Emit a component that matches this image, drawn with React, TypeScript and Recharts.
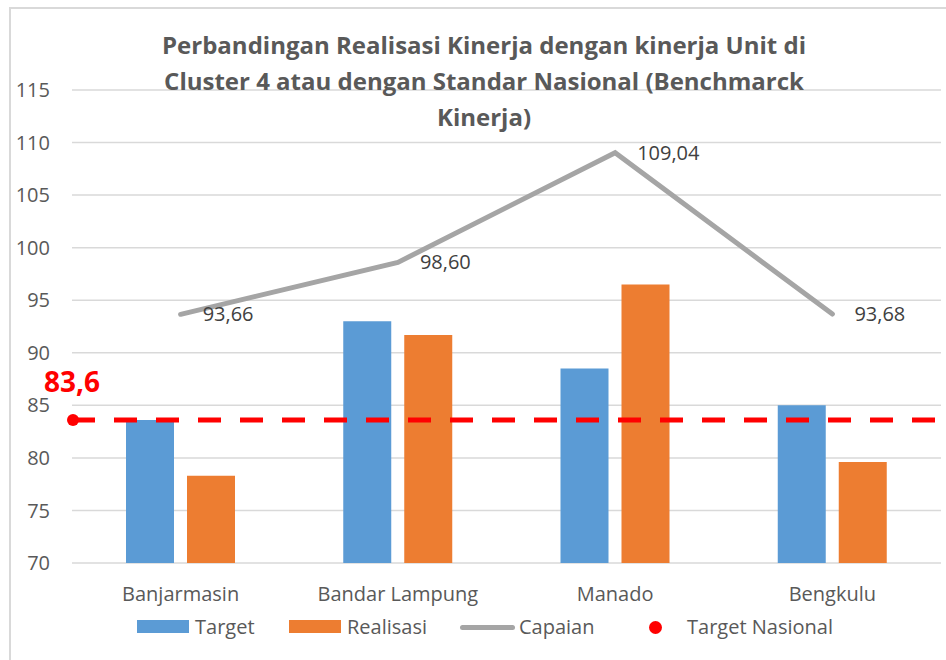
import { ComposedChart, Bar, Line, XAxis, YAxis, CartesianGrid, ReferenceLine, LabelList } from 'recharts';

const categories = ['Banjarmasin', 'Bandar Lampung', 'Manado', 'Bengkulu'];
const targetValues = [83.6, 93.0, 88.5, 85.0];
const realisasiValues = [78.3, 91.7, 96.5, 79.6];
const capaianValues = [93.66, 98.6, 109.04, 93.68];
const targetNasional = 83.6;
const yTicks = [70, 75, 80, 85, 90, 95, 100, 105, 110, 115];

const titleLines = [
  'Perbandingan Realisasi Kinerja dengan kinerja Unit di',
  'Cluster 4 atau dengan Standar Nasional (Benchmarck',
  'Kinerja)',
];

const data = categories.map((name, i) => ({
  name,
  target: targetValues[i],
  realisasi: realisasiValues[i],
  capaian: capaianValues[i],
}));

const fmt = (v: number) => v.toFixed(2).replace('.', ',');
const textColor = '#595959';

const NasionalMarker = (props: any) => {
  const { viewBox } = props;
  if (!viewBox) return null;
  return (
    <g>
      <circle cx={viewBox.x + 1} cy={viewBox.y} r={6} fill="#FF0000" />
      <text
        x={viewBox.x}
        y={viewBox.y - 28}
        textAnchor="middle"
        fill="#FF0000"
        fontSize={28}
        fontWeight="bold"
        fontFamily="Open Sans"
      >
        {String(targetNasional).replace('.', ',')}
      </text>
    </g>
  );
};

const legendItems = [
  { label: 'Target', kind: 'rect', color: '#5B9BD5', x: 137, tx: 195 },
  { label: 'Realisasi', kind: 'rect', color: '#ED7D31', x: 289, tx: 347 },
  { label: 'Capaian', kind: 'line', color: '#A5A5A5', x: 460, tx: 519 },
  { label: 'Target Nasional', kind: 'dot', color: '#FF0000', x: 649, tx: 687 },
];

export default function App() {
  return (
    <div
      style={{
        position: 'absolute',
        left: 0,
        top: 0,
        width: 946,
        height: 660,
        background: '#fff',
        overflow: 'hidden',
        fontFamily: 'Open Sans',
      }}
    >
      <div
        style={{
          position: 'absolute',
          left: 9,
          top: 7,
          width: 960,
          height: 700,
          borderLeft: '2px solid #D9D9D9',
          borderTop: '2px solid #D9D9D9',
        }}
      />
      <ComposedChart
        width={946}
        height={660}
        data={data}
        margin={{ top: 90, right: 5, bottom: 57, left: 0 }}
        barCategoryGap={54}
        barGap={13}
        style={{ position: 'absolute', left: 0, top: 0 }}
      >
        <CartesianGrid vertical={false} stroke="#D9D9D9" strokeWidth={1.5} />
        <XAxis
          dataKey="name"
          axisLine={false}
          tickLine={false}
          tickMargin={18}
          height={40}
          tick={{ fill: textColor, fontSize: 20, fontFamily: 'Open Sans' }}
        />
        <YAxis
          domain={[70, 115]}
          ticks={yTicks}
          width={72}
          axisLine={false}
          tickLine={false}
          tickMargin={16}
          tick={{ fill: textColor, fontSize: 20, fontFamily: 'Open Sans' }}
        />
        <Bar dataKey="target" name="Target" fill="#5B9BD5" isAnimationActive={false} />
        <Bar dataKey="realisasi" name="Realisasi" fill="#ED7D31" isAnimationActive={false} />
        <Line
          dataKey="capaian"
          name="Capaian"
          stroke="#A5A5A5"
          strokeWidth={5}
          strokeLinecap="round"
          dot={false}
          activeDot={false}
          type="linear"
          isAnimationActive={false}
        >
          <LabelList
            dataKey="capaian"
            position="right"
            offset={22}
            formatter={(v: any) => fmt(Number(v))}
            fill="#404040"
            fontSize={20}
            fontFamily="Open Sans"
          />
        </Line>
        <ReferenceLine
          y={targetNasional}
          stroke="#FF0000"
          strokeWidth={5}
          strokeDasharray="23 19"
          label={<NasionalMarker />}
        />
      </ComposedChart>
      <div
        style={{
          position: 'absolute',
          left: 0,
          top: 27,
          width: 968,
          textAlign: 'center',
          fontSize: 24,
          fontWeight: 'bold',
          lineHeight: '36px',
          color: textColor,
        }}
      >
        {titleLines.map((t) => (
          <div key={t}>{t}</div>
        ))}
      </div>
      {legendItems.map((it) => (
        <div key={it.label}>
          {it.kind === 'rect' && (
            <div style={{ position: 'absolute', left: it.x, top: 620, width: 52, height: 13, background: it.color }} />
          )}
          {it.kind === 'line' && (
            <div
              style={{ position: 'absolute', left: it.x, top: 625, width: 55, height: 5, borderRadius: 3, background: it.color }}
            />
          )}
          {it.kind === 'dot' && (
            <div style={{ position: 'absolute', left: it.x, top: 621, width: 13, height: 13, borderRadius: 7, background: it.color }} />
          )}
          <div
            style={{
              position: 'absolute',
              left: it.tx,
              top: 612,
              fontSize: 20,
              lineHeight: '30px',
              color: textColor,
              whiteSpace: 'nowrap',
            }}
          >
            {it.label}
          </div>
        </div>
      ))}
    </div>
  );
}
